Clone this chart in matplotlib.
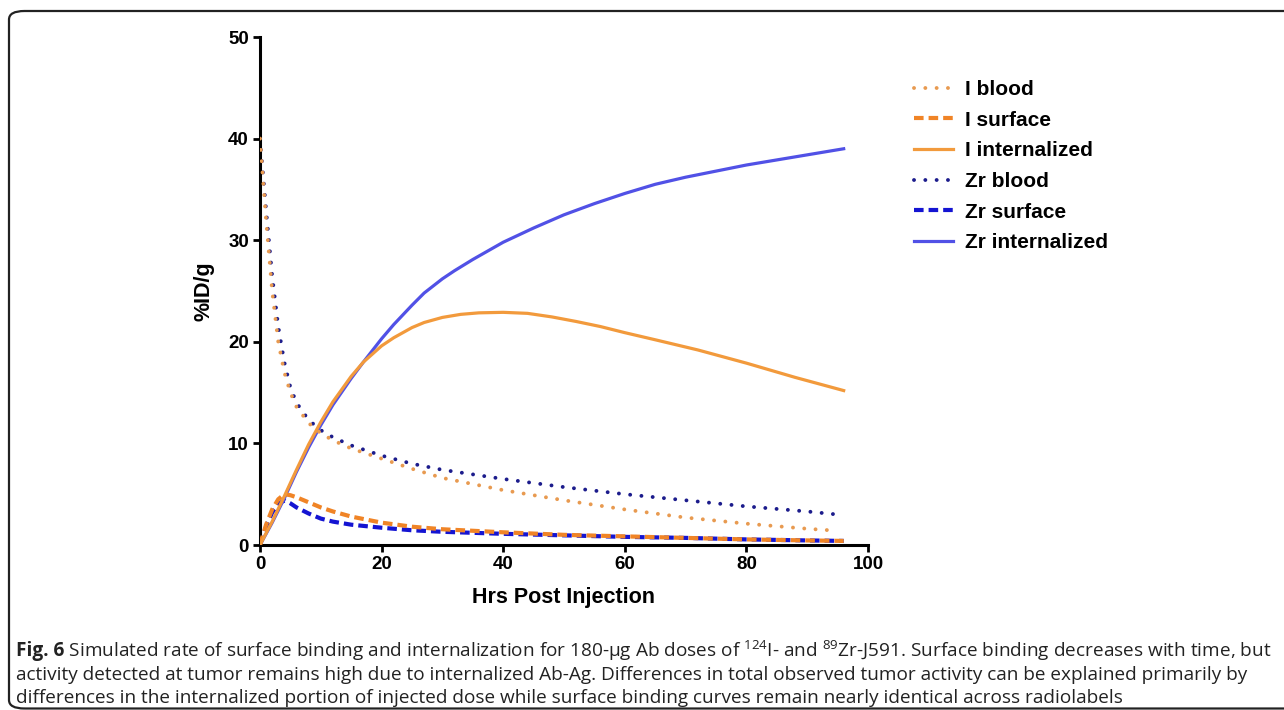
import matplotlib
matplotlib.use("Agg")
import matplotlib.pyplot as plt
from matplotlib.patches import FancyBboxPatch

# --- data ---
t_blood = [0, 1, 2, 3, 4, 5, 6, 8, 10, 12, 15, 20, 25, 30, 40, 50, 60, 70, 80, 90, 95]
i_blood = [40, 32, 25, 20, 17, 15, 13.6, 12, 11, 10.3, 9.5, 8.5, 7.5, 6.6, 5.4, 4.4, 3.5, 2.7, 2.1, 1.6, 1.4]
zr_blood = [40, 33, 26.5, 21.5, 18, 15.5, 14, 12.3, 11.3, 10.6, 9.8, 8.8, 8.0, 7.4, 6.5, 5.7, 5.0, 4.4, 3.8, 3.3, 3.0]

t_surf = [0, 1, 2, 3, 4, 5, 6, 8, 10, 12, 15, 20, 25, 30, 40, 50, 60, 70, 80, 90, 96]
i_surface = [0, 2.0, 3.5, 4.5, 5.0, 4.9, 4.7, 4.2, 3.7, 3.3, 2.8, 2.2, 1.8, 1.55, 1.25, 1.0, 0.85, 0.7, 0.55, 0.45, 0.4]
zr_surface = [0, 1.8, 3.2, 4.0, 4.4, 4.1, 3.7, 3.1, 2.6, 2.3, 2.0, 1.7, 1.45, 1.3, 1.1, 0.95, 0.8, 0.7, 0.55, 0.45, 0.4]

t_int_zr = [0, 2, 4, 6, 8, 10, 12, 15, 17, 20, 22, 25, 27, 30, 32, 35, 40, 45, 50, 55, 60, 65, 70, 75, 80, 85, 90, 96]
zr_internal = [0, 2.2, 4.6, 7.2, 9.6, 11.8, 13.8, 16.4, 18.0, 20.3, 21.7, 23.6, 24.8, 26.2, 27.0, 28.1, 29.8,
               31.2, 32.5, 33.6, 34.6, 35.5, 36.2, 36.8, 37.4, 37.9, 38.4, 39.0]

t_int_i = [0, 2, 4, 6, 8, 10, 12, 15, 17, 20, 22, 25, 27, 30, 33, 36, 40, 44, 48, 52, 56, 60, 65, 72, 80, 88, 96]
i_internal = [0, 2.3, 4.8, 7.4, 9.9, 12.1, 14.1, 16.6, 18.0, 19.6, 20.4, 21.4, 21.9, 22.4, 22.7, 22.85, 22.9,
              22.8, 22.45, 22.0, 21.5, 20.9, 20.2, 19.2, 17.9, 16.5, 15.2]

x_ticks = [0, 20, 40, 60, 80, 100]
y_ticks = [0, 10, 20, 30, 40, 50]

caption_head = "Fig. 6"
caption = [
    r" Simulated rate of surface binding and internalization for 180-µg Ab doses of "
    r"$^{124}$I- and $^{89}$Zr-J591. Surface binding decreases with time, but",
    "activity detected at tumor remains high due to internalized Ab-Ag. Differences in total observed tumor activity can be explained primarily by",
    "differences in the internalized portion of injected dose while surface binding curves remain nearly identical across radiolabels",
]
caption_y = [651, 675, 698]  # line centres, px from top

orange = "#F29A3C"
orange_dot = "#E89A50"
orange_dash = "#F08426"
blue_solid = "#5151E6"
blue_dot = "#1C1C8C"
blue_dash = "#1414D2"

plt.rcParams["font.family"] = ["Liberation Sans", "DejaVu Sans"]
plt.rcParams["mathtext.fontset"] = "custom"
plt.rcParams["mathtext.rm"] = "Open Sans"

W, H = 1284, 710
fig = plt.figure(figsize=(W / 100, H / 100), dpi=100)
ax = fig.add_axes([260 / W, 1 - 545 / H, 608 / W, 508 / H])

dot = (0, (0.01, 2.9))
dash = (0, (2.3, 1.2))

ax.plot(t_blood, i_blood, color=orange_dot, lw=2.8, ls=dot, dash_capstyle="round", label="I blood", zorder=3)
ax.plot(t_surf, i_surface, color=orange_dash, lw=3.0, ls=dash, label="I surface", zorder=4)
ax.plot(t_int_i, i_internal, color=orange, lw=2.3, label="I internalized", zorder=5)
ax.plot(t_blood, zr_blood, color=blue_dot, lw=2.8, ls=dot, dash_capstyle="round", label="Zr blood", zorder=2)
ax.plot(t_surf, zr_surface, color=blue_dash, lw=3.0, ls=dash, label="Zr surface", zorder=2)
ax.plot(t_int_zr, zr_internal, color=blue_solid, lw=2.3, label="Zr internalized", zorder=2)

ax.set_xlim(0, 100)
ax.set_ylim(0, 50)
ax.set_xticks(x_ticks)
ax.set_yticks(y_ticks)
for s in ["top", "right"]:
    ax.spines[s].set_visible(False)
for s in ["left", "bottom"]:
    ax.spines[s].set_linewidth(2.2)
ax.tick_params(width=2, length=5, labelsize=13.5, pad=3)
for lbl in ax.get_xticklabels() + ax.get_yticklabels():
    lbl.set_fontweight("bold")
ax.set_xlabel("Hrs Post Injection", fontsize=15.5, fontweight="bold", labelpad=10)
ax.set_ylabel("%ID/g", fontsize=15.5, fontweight="bold", labelpad=10)

fig.legend(loc="upper left", bbox_to_anchor=(914 / W, 1 - 80 / H), frameon=False,
           prop={"weight": "bold", "size": 15}, handlelength=1.85,
           labelspacing=0.56, handletextpad=0.6, borderpad=0, borderaxespad=0)

# caption: bold "Fig. 6" then regular text, scaled so line 1 spans the reference width
renderer = fig.canvas.get_renderer()
x0 = 16 / W
head = fig.text(x0, 1 - caption_y[0] / H, caption_head, fontsize=12, family="Open Sans",
                fontweight="bold", color="#222222", va="center")
texts = [fig.text(x0, 1 - y / H, line, fontsize=12, family="Open Sans", color="#222222", va="center")
         for line, y in zip(caption, caption_y)]
w_head = head.get_window_extent(renderer).width
w_line = texts[0].get_window_extent(renderer).width
scale = 1252 / (w_head + w_line)
head.set_fontsize(12 * scale)
for t in texts:
    t.set_fontsize(12 * scale)
texts[0].set_x(x0 + w_head * scale / W)

# rounded border around the panel (open on the right)
border = FancyBboxPatch((9 / W, 1.5 / H), 1.2, 1 - 12.5 / H,
                        boxstyle="round,pad=0,rounding_size=0.012",
                        transform=fig.transFigure, fill=False, lw=1.6,
                        edgecolor="#222222", clip_on=False)
fig.patches.append(border)

fig.savefig("out.png", dpi=100)
